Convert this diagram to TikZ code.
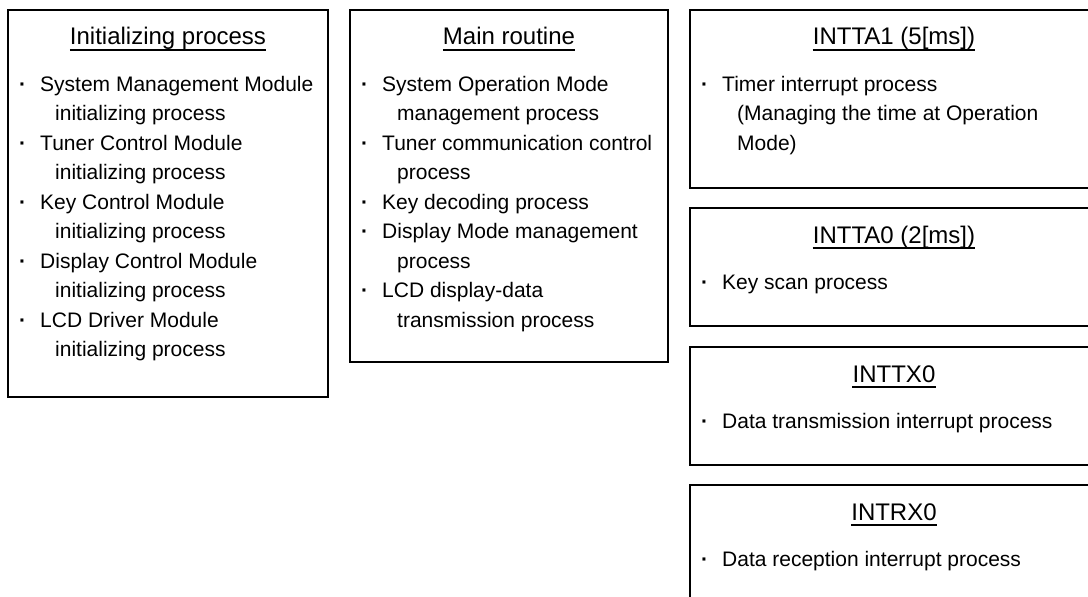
\documentclass[tikz,border=0pt]{standalone}
\usepackage{fontspec}
\setmainfont{Liberation Sans}
\usetikzlibrary{calc}

\tikzset{
  panel/.style={draw=black, line width=1.2pt},
  ttl/.style={anchor=base, inner sep=0pt, font=\fontsize{24}{28}\selectfont},
  itm/.style={anchor=base west, inner sep=0pt, font=\fontsize{21}{25}\selectfont},
  uline/.style={line width=1.2pt}
}
\newcommand{\dotitem}[1]{\makebox[21pt][l]{\textbf{·}}#1}

\begin{document}
\begin{tikzpicture}[x=1pt, y=-1pt]
  % Page frame
  \path[use as bounding box] (0,0) rectangle (1088,597);
  \clip (0,0) rectangle (1088,597);

  % Initializing process
  \draw[panel] (8,10) rectangle (328,397);
  \node[ttl] (tInit) at (168,45) {Initializing process};
  \draw[uline] ([yshift=-5pt]tInit.base west) -- ([yshift=-5pt]tInit.base east);
  \node[itm] (i1a) at (19,91) {\dotitem{System Management Module}};
  \node[itm] (i1b) at (55,120.5) {initializing process};
  \node[itm] (i2a) at (19,150) {\dotitem{Tuner Control Module}};
  \node[itm] (i2b) at (55,179.5) {initializing process};
  \node[itm] (i3a) at (19,209) {\dotitem{Key Control Module}};
  \node[itm] (i3b) at (55,238.5) {initializing process};
  \node[itm] (i4a) at (19,268) {\dotitem{Display Control Module}};
  \node[itm] (i4b) at (55,297.5) {initializing process};
  \node[itm] (i5a) at (19,327) {\dotitem{LCD Driver Module}};
  \node[itm] (i5b) at (55,356.5) {initializing process};

  % Main routine
  \draw[panel] (350,10) rectangle (668,362);
  \node[ttl] (tMain) at (509,45) {Main routine};
  \draw[uline] ([yshift=-5pt]tMain.base west) -- ([yshift=-5pt]tMain.base east);
  \node[itm] (m1a) at (361,91) {\dotitem{System Operation Mode}};
  \node[itm] (m1b) at (397,120.5) {management process};
  \node[itm] (m2a) at (361,150) {\dotitem{Tuner communication control}};
  \node[itm] (m2b) at (397,179.5) {process};
  \node[itm] (m3a) at (361,209) {\dotitem{Key decoding process}};
  \node[itm] (m4a) at (361,238.5) {\dotitem{Display Mode management}};
  \node[itm] (m4b) at (397,268) {process};
  \node[itm] (m5a) at (361,297.5) {\dotitem{LCD display-data}};
  \node[itm] (m5b) at (397,327) {transmission process};

  % INTTA1
  \draw[panel] (690,10) rectangle (1098,188);
  \node[ttl] (tTA1) at (894,45) {INTTA1 (5[ms])};
  \draw[uline] ([yshift=-5pt]tTA1.base west) -- ([yshift=-5pt]tTA1.base east);
  \node[itm] (a1a) at (701,91) {\dotitem{Timer interrupt process}};
  \node[itm] (a1b) at (737,120.5) {(Managing the time at Operation};
  \node[itm] (a1c) at (737,150) {Mode)};

  % INTTA0
  \draw[panel] (690,208) rectangle (1098,326);
  \node[ttl] (tTA0) at (894,243) {INTTA0 (2[ms])};
  \draw[uline] ([yshift=-5pt]tTA0.base west) -- ([yshift=-5pt]tTA0.base east);
  \node[itm] (a0a) at (701,289) {\dotitem{Key scan process}};

  % INTTX0
  \draw[panel] (690,347) rectangle (1098,465);
  \node[ttl] (tTX0) at (894,382) {INTTX0};
  \draw[uline] ([yshift=-5pt]tTX0.base west) -- ([yshift=-5pt]tTX0.base east);
  \node[itm] (x0a) at (701,428) {\dotitem{Data transmission interrupt process}};

  % INTRX0
  \draw[panel] (690,485) rectangle (1098,620);
  \node[ttl] (tRX0) at (894,520) {INTRX0};
  \draw[uline] ([yshift=-5pt]tRX0.base west) -- ([yshift=-5pt]tRX0.base east);
  \node[itm] (r0a) at (701,566) {\dotitem{Data reception interrupt process}};
\end{tikzpicture}
\end{document}
